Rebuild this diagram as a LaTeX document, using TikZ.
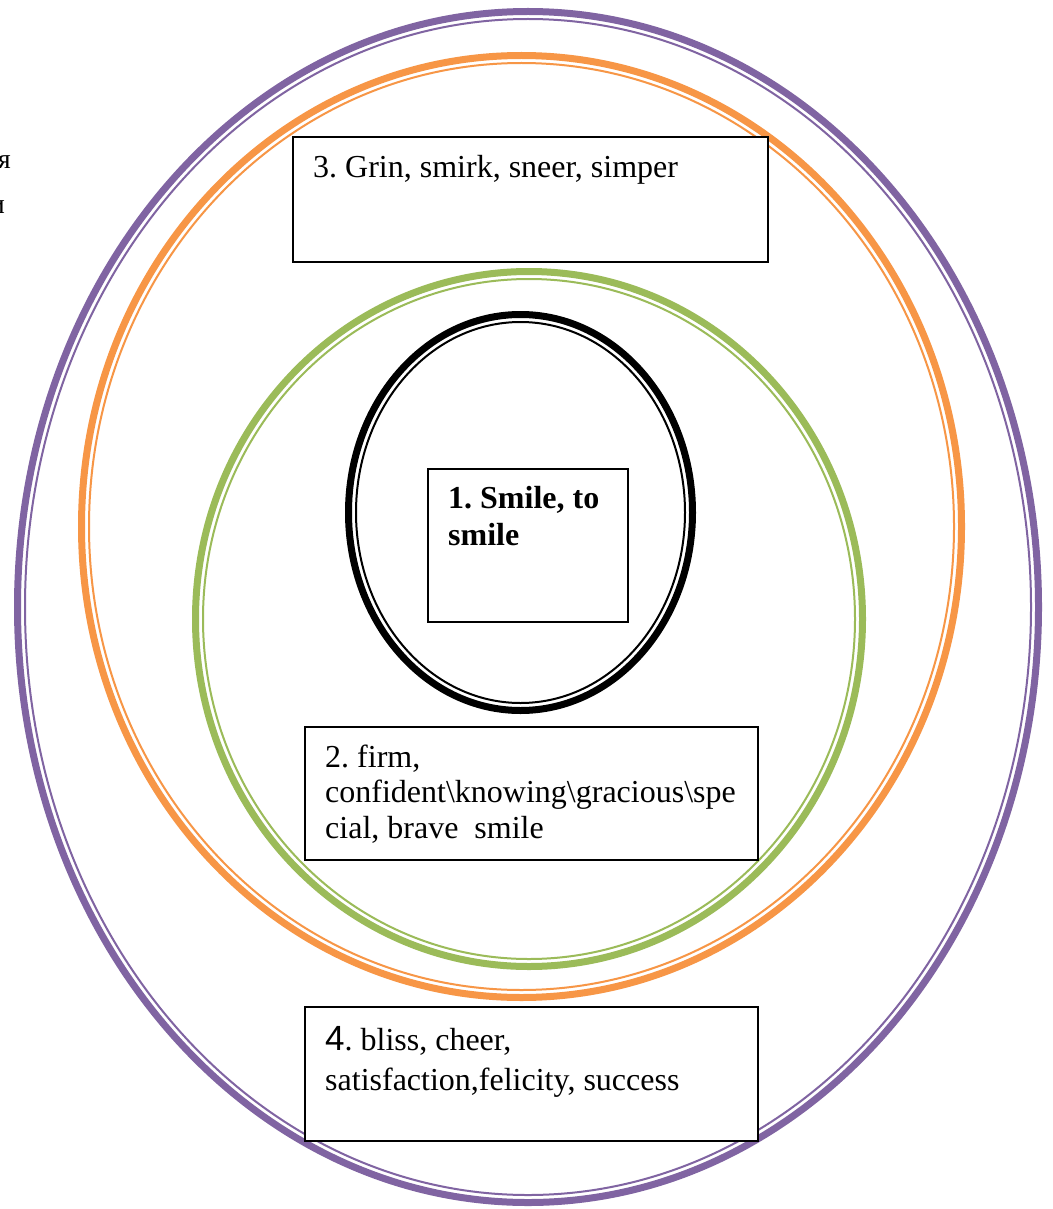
\documentclass[tikz,border=0pt]{standalone}
\usepackage{fontspec}
\setmainfont{Liberation Serif}
\newfontfamily\arialfont{Liberation Sans}
\frenchspacing
\definecolor{cpurple}{HTML}{8064A2}
\definecolor{corange}{HTML}{F79646}
\definecolor{cgreen}{HTML}{9BBB59}
\tikzset{
  thickring/.style={line width=7pt},
  thinring/.style={line width=2pt},
  wordbox/.style={draw=black, line width=1.5pt, rectangle, inner sep=0pt, fill=white},
  wordline/.style={anchor=base west, inner sep=0pt, font=\fontsize{32}{37}\selectfont},
  strayline/.style={anchor=base east, inner sep=0pt, font=\fontsize{28}{32}\selectfont},
}
\begin{document}
\begin{tikzpicture}[x=1pt,y=-1pt]
\useasboundingbox (0,0) rectangle (1052,1209);
\fill[white] (0,0) rectangle (1052,1209);

% stray cut-off letters at the left edge
\begin{scope}
\clip (0,0) rectangle (1052,1209);
\node[strayline] (strayA) at (11,168) {я};
\node[strayline] (strayB) at (5,213) {и};
\end{scope}

% centres
\coordinate (cP) at (528,607);
\coordinate (cO) at (521.5,526.5);
\coordinate (cG) at (529,619);
\coordinate (cB) at (520.5,512.5);

% purple ring
\draw[cpurple, thickring] (cP) ellipse [x radius=510.5, y radius=595.5];
\draw[cpurple, thinring] (cP) ellipse [x radius=503, y radius=588];
% orange ring
\draw[corange, thickring] (cO) ellipse [x radius=440, y radius=471];
\draw[corange, thinring] (cO) ellipse [x radius=432.5, y radius=463.5];
% green ring
\draw[cgreen, thickring] (cG) ellipse [x radius=333.5, y radius=347.5];
\draw[cgreen, thinring] (cG) ellipse [x radius=326, y radius=340];
% black ring
\draw[black, thickring] (cB) ellipse [x radius=172, y radius=198];
\draw[black, thinring] (cB) ellipse [x radius=164.5, y radius=190.5];

% boxes
\node[wordbox, minimum width=475pt, minimum height=125pt] (box3) at (530.5,199.5) {};
\node[wordbox, minimum width=200pt, minimum height=153pt] (box1) at (528,545.5) {};
\node[wordbox, minimum width=453pt, minimum height=133pt] (box2) at (531.5,793.5) {};
\node[wordbox, minimum width=453pt, minimum height=134pt] (box4) at (531.5,1074) {};

% texts
\node[wordline] (t3) at (313,178) {3. Grin, smirk, sneer, simper};

\node[wordline, font=\fontsize{32}{37}\selectfont\bfseries] (t1a) at (448,508) {1. Smile, to};
\node[wordline, font=\fontsize{32}{37}\selectfont\bfseries] (t1b) at (448,545) {smile};

\node[wordline] (t2a) at (325,767) {2. firm,};
\node[wordline] (t2b) at (325,802) {confident\textbackslash knowing\textbackslash gracious\textbackslash spe};
\node[wordline] (t2c) at (325,838) {cial, brave\ \ smile};

\node[wordline] (t4a) at (325,1050) {{\arialfont\fontsize{35}{37}\selectfont 4}. bliss, cheer,};
\node[wordline] (t4b) at (325,1090) {satisfaction,felicity, success};
\end{tikzpicture}
\end{document}
